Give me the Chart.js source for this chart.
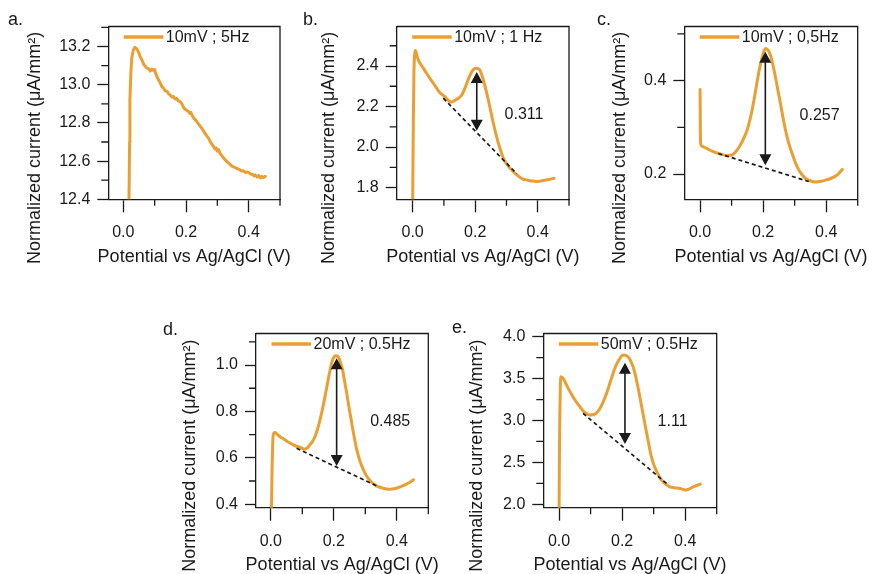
<!DOCTYPE html>
<html>
<head>
<meta charset="utf-8">
<script src="https://cdn.jsdelivr.net/npm/chart.js@4.4.1/dist/chart.umd.min.js"></script>
<style>
  html, body { margin: 0; padding: 0; background: #fff; }
  #wrap { position: relative; width: 872px; height: 574px; overflow: hidden; }
  #wrap canvas { position: absolute; left: 0; top: 0; }
</style>
</head>
<body>
<div id="wrap">
  <canvas id="ca" width="872" height="574"></canvas>
  <canvas id="cb" width="872" height="574"></canvas>
  <canvas id="cc" width="872" height="574"></canvas>
  <canvas id="cd" width="872" height="574"></canvas>
  <canvas id="ce" width="872" height="574"></canvas>
</div>
<script>
const ORANGE = "#EA9F33";
const INK = "#1a1a1a";
const FONT = "'Liberation Sans', Arial, sans-serif";
const Y_TITLE = "Normalized current (μA/mm²)";
const X_TITLE = "Potential vs Ag/AgCl (V)";

// shared x axis (V)
const xTicks = [0, 0.1, 0.2, 0.3, 0.4, 0.5];
const xTickLabels = [0, 0.2, 0.4];

// a. 10mV ; 5Hz
const potA = [0.018, 0.020, 0.021, 0.024, 0.027, 0.032, 0.037, 0.040, 0.044, 0.048, 0.053, 0.059, 0.064, 0.069, 0.074,
  0.080, 0.086, 0.090, 0.094, 0.098, 0.101, 0.106, 0.112, 0.117, 0.123, 0.128, 0.134, 0.139, 0.145, 0.150, 0.155,
  0.160, 0.165, 0.171, 0.176, 0.181, 0.187, 0.192, 0.197, 0.203, 0.208, 0.212, 0.215, 0.220, 0.225, 0.229, 0.235,
  0.240, 0.245, 0.250, 0.255, 0.258, 0.264, 0.268, 0.272, 0.278, 0.283, 0.288, 0.292, 0.296, 0.300, 0.304, 0.309,
  0.315, 0.322, 0.330, 0.336, 0.341, 0.348, 0.355, 0.362, 0.370, 0.377, 0.383, 0.390, 0.397, 0.405, 0.412, 0.418,
  0.421, 0.427, 0.432, 0.437, 0.442, 0.447, 0.453];
const curA = [12.38, 12.70, 12.92, 13.06, 13.14, 13.183, 13.196, 13.192, 13.185, 13.172, 13.150, 13.131, 13.110, 13.099, 13.088,
  13.084, 13.072, 13.082, 13.076, 13.079, 13.068, 13.048, 13.026, 13.012, 12.990, 12.982, 12.968, 12.965, 12.952, 12.945, 12.936,
  12.938, 12.925, 12.928, 12.914, 12.912, 12.900, 12.882, 12.872, 12.864, 12.860, 12.850, 12.856, 12.838, 12.825, 12.818, 12.806,
  12.795, 12.783, 12.774, 12.760, 12.752, 12.738, 12.728, 12.720, 12.700, 12.688, 12.676, 12.664, 12.670, 12.652, 12.660, 12.640,
  12.626, 12.612, 12.598, 12.590, 12.582, 12.572, 12.568, 12.561, 12.557, 12.548, 12.550, 12.540, 12.543, 12.534, 12.530, 12.522,
  12.528, 12.516, 12.524, 12.512, 12.520, 12.514, 12.520];
const yTicksA = [12.4, 12.5, 12.6, 12.7, 12.8, 12.9, 13.0, 13.1, 13.2, 13.3];
const yLabelsA = [12.4, 12.6, 12.8, 13.0, 13.2];

// b. 10mV ; 1 Hz
const potB = [0.000, 0.002, 0.004, 0.007, 0.009, 0.013, 0.018, 0.026, 0.034, 0.042, 0.050, 0.058, 0.066, 0.076, 0.087,
  0.095, 0.103, 0.111, 0.119, 0.125, 0.132, 0.141, 0.149, 0.157, 0.165, 0.173, 0.181, 0.189, 0.196, 0.203, 0.209,
  0.215, 0.220, 0.226, 0.234, 0.242, 0.250, 0.258, 0.266, 0.274, 0.282, 0.290, 0.300, 0.311, 0.322, 0.333, 0.344,
  0.354, 0.365, 0.375, 0.386, 0.397, 0.408, 0.418, 0.429, 0.439, 0.452];
const curB = [1.70, 2.10, 2.36, 2.465, 2.476, 2.455, 2.430, 2.408, 2.389, 2.370, 2.351, 2.333, 2.315, 2.292, 2.268,
  2.258, 2.249, 2.234, 2.224, 2.222, 2.228, 2.236, 2.244, 2.257, 2.282, 2.315, 2.346, 2.372, 2.385, 2.389, 2.387,
  2.380, 2.360, 2.331, 2.285, 2.232, 2.175, 2.118, 2.066, 2.019, 1.980, 1.945, 1.918, 1.896, 1.878, 1.863, 1.850,
  1.841, 1.837, 1.834, 1.832, 1.830, 1.832, 1.835, 1.838, 1.841, 1.846];
const yTicksB = [1.8, 1.9, 2.0, 2.1, 2.2, 2.3, 2.4, 2.5];
const yLabelsB = [1.8, 2.0, 2.2, 2.4];
const baseB = [[0.098, 2.241], [0.333, 1.868]];
const arrowB = [0.205, 2.08, 2.37];
const peakB = "0.311";

// c. 10mV ; 0,5Hz
const potC = [0.000, 0.0005, 0.001, 0.002, 0.008, 0.021, 0.042, 0.064, 0.085, 0.101, 0.109, 0.117, 0.125, 0.133, 0.141,
  0.149, 0.157, 0.165, 0.173, 0.180, 0.188, 0.196, 0.203, 0.209, 0.216, 0.223, 0.231, 0.239, 0.247, 0.255, 0.263,
  0.271, 0.281, 0.292, 0.302, 0.313, 0.323, 0.334, 0.345, 0.356, 0.366, 0.377, 0.388, 0.398, 0.412, 0.425, 0.438, 0.451];
const curC = [0.381, 0.337, 0.287, 0.264, 0.259, 0.255, 0.248, 0.243, 0.240, 0.241, 0.245, 0.251, 0.259, 0.269, 0.280,
  0.294, 0.313, 0.337, 0.366, 0.394, 0.424, 0.448, 0.464, 0.469, 0.465, 0.455, 0.434, 0.408, 0.379, 0.351, 0.321,
  0.294, 0.267, 0.244, 0.225, 0.209, 0.199, 0.191, 0.187, 0.184, 0.183, 0.184, 0.185, 0.187, 0.190, 0.194, 0.200, 0.210];
const yTicksC = [0.2, 0.3, 0.4, 0.5];
const yLabelsC = [0.2, 0.4];
const baseC = [[0.058, 0.244], [0.345, 0.184]];
const arrowC = [0.207, 0.219, 0.462];
const peakC = "0.257";

// d. 20mV ; 0.5Hz
const potD = [0.002, 0.004, 0.006, 0.008, 0.013, 0.020, 0.029, 0.040, 0.050, 0.061, 0.071, 0.082, 0.092, 0.100, 0.108,
  0.116, 0.124, 0.132, 0.140, 0.148, 0.156, 0.164, 0.172, 0.180, 0.188, 0.195, 0.201, 0.208, 0.214, 0.221, 0.228,
  0.234, 0.241, 0.249, 0.257, 0.265, 0.273, 0.283, 0.294, 0.304, 0.315, 0.325, 0.336, 0.346, 0.357, 0.368, 0.379,
  0.392, 0.405, 0.418, 0.432, 0.443, 0.453];
const curD = [0.37, 0.55, 0.66, 0.700, 0.709, 0.702, 0.691, 0.682, 0.673, 0.664, 0.656, 0.650, 0.646, 0.641, 0.637,
  0.643, 0.656, 0.670, 0.691, 0.722, 0.763, 0.810, 0.864, 0.922, 0.977, 1.018, 1.036, 1.040, 1.036, 1.012, 0.979,
  0.932, 0.878, 0.812, 0.749, 0.688, 0.634, 0.586, 0.548, 0.522, 0.502, 0.489, 0.479, 0.473, 0.469, 0.466, 0.465,
  0.467, 0.472, 0.479, 0.488, 0.496, 0.505];
const yTicksD = [0.4, 0.5, 0.6, 0.7, 0.8, 0.9, 1.0, 1.1];
const yLabelsD = [0.4, 0.6, 0.8, 1.0];
const baseD = [[0.082, 0.641], [0.336, 0.479]];
const arrowD = [0.209, 0.565, 1.029];
const peakD = "0.485";

// e. 50mV ; 0.5Hz
const potE = [0.000, 0.001, 0.002, 0.004, 0.006, 0.009, 0.013, 0.021, 0.029, 0.037, 0.045, 0.055, 0.066, 0.074, 0.082,
  0.090, 0.098, 0.106, 0.114, 0.122, 0.130, 0.138, 0.146, 0.154, 0.161, 0.169, 0.177, 0.185, 0.193, 0.200, 0.206,
  0.214, 0.223, 0.230, 0.238, 0.245, 0.252, 0.260, 0.268, 0.276, 0.284, 0.291, 0.299, 0.310, 0.321, 0.332, 0.342,
  0.350, 0.358, 0.368, 0.379, 0.390, 0.400, 0.411, 0.422, 0.435, 0.448];
const curE = [1.90, 2.50, 2.95, 3.40, 3.523, 3.515, 3.503, 3.445, 3.384, 3.330, 3.277, 3.220, 3.165, 3.125, 3.093,
  3.076, 3.066, 3.068, 3.078, 3.105, 3.146, 3.205, 3.277, 3.360, 3.444, 3.535, 3.623, 3.690, 3.742, 3.775, 3.782,
  3.772, 3.742, 3.685, 3.603, 3.490, 3.364, 3.205, 3.045, 2.885, 2.728, 2.600, 2.489, 2.390, 2.310, 2.262, 2.230,
  2.212, 2.203, 2.196, 2.191, 2.182, 2.171, 2.180, 2.203, 2.222, 2.242];
const yTicksE = [2.0, 2.25, 2.5, 2.75, 3.0, 3.25, 3.5, 3.75, 4.0];
const yLabelsE = [2.0, 2.5, 3.0, 3.5, 4.0];
const baseE = [[0.076, 3.086], [0.347, 2.23]];
const arrowE = [0.209, 2.72, 3.69];
const peakE = "1.11";

const has = (list, v) => list.some((l) => Math.abs(l - v) < 1e-6);

// frame, minor ticks, titles, legend and the peak-height annotations
const decor = {
  id: "decor",
  afterDraw(chart, args, o) {
    const { ctx, chartArea: a } = chart;
    const x = chart.scales.x, y = chart.scales.y;
    ctx.save();
    ctx.strokeStyle = INK;
    ctx.fillStyle = INK;
    ctx.lineWidth = 1.3;

    // top + right edge of the box
    ctx.beginPath();
    ctx.moveTo(a.left, a.top);
    ctx.lineTo(a.right, a.top);
    ctx.lineTo(a.right, a.bottom);
    ctx.stroke();

    // minor ticks
    ctx.beginPath();
    xTicks.forEach((v) => {
      if (has(xTickLabels, v)) return;
      const px = x.getPixelForValue(v);
      ctx.moveTo(px, a.bottom);
      ctx.lineTo(px, a.bottom + 6.5);
    });
    o.yTicks.forEach((v) => {
      if (has(o.yLabels, v)) return;
      const py = y.getPixelForValue(v);
      ctx.moveTo(a.left - 7, py);
      ctx.lineTo(a.left, py);
    });
    ctx.stroke();

    // baseline + double arrow
    if (o.base) {
      ctx.save();
      ctx.setLineDash([4, 3]);
      ctx.lineWidth = 1.7;
      ctx.beginPath();
      ctx.moveTo(x.getPixelForValue(o.base[0][0]), y.getPixelForValue(o.base[0][1]));
      ctx.lineTo(x.getPixelForValue(o.base[1][0]), y.getPixelForValue(o.base[1][1]));
      ctx.stroke();
      ctx.restore();

      const ax = x.getPixelForValue(o.arrow[0]);
      const yLo = y.getPixelForValue(o.arrow[1]);
      const yHi = y.getPixelForValue(o.arrow[2]);
      ctx.lineWidth = 1.6;
      ctx.beginPath();
      ctx.moveTo(ax, yHi + 8);
      ctx.lineTo(ax, yLo - 8);
      ctx.stroke();
      ctx.beginPath();
      ctx.moveTo(ax, yHi);
      ctx.lineTo(ax - 6, yHi + 11);
      ctx.lineTo(ax + 6, yHi + 11);
      ctx.closePath();
      ctx.moveTo(ax, yLo);
      ctx.lineTo(ax - 6, yLo - 11);
      ctx.lineTo(ax + 6, yLo - 11);
      ctx.closePath();
      ctx.fill();

      ctx.font = "16px " + FONT;
      ctx.textAlign = "center";
      ctx.textBaseline = "middle";
      ctx.fillText(o.note[0], x.getPixelForValue(o.note[1]), y.getPixelForValue(o.note[2]));
    }

    // legend
    const ly = a.top + 10.5;
    ctx.strokeStyle = ORANGE;
    ctx.lineWidth = 3.5;
    ctx.beginPath();
    ctx.moveTo(a.left + 15.5, ly);
    ctx.lineTo(a.left + 55, ly);
    ctx.stroke();
    ctx.font = "16px " + FONT;
    ctx.textAlign = "left";
    ctx.textBaseline = "middle";
    ctx.fillText(chart.data.datasets[0].label, a.left + 57.5, ly + 1);

    // axis titles
    ctx.font = "18px " + FONT;
    ctx.textAlign = "center";
    ctx.textBaseline = "middle";
    ctx.fillText(X_TITLE, (a.left + a.right) / 2, a.bottom + 57.5);
    ctx.save();
    ctx.translate(o.yTitleX, (a.top + a.bottom) / 2 + 35);
    ctx.rotate(-Math.PI / 2);
    ctx.fillText(Y_TITLE, 0, 0);
    ctx.restore();

    // panel letter
    ctx.textAlign = "left";
    ctx.textBaseline = "alphabetic";
    ctx.fillText(o.letter, o.letterAt[0], o.letterAt[1]);
    ctx.restore();
  }
};

function makePanel(id, p) {
  const [l, t, r, b] = p.box;
  const YW = 60, XH = 60;
  new Chart(document.getElementById(id), {
    type: "line",
    data: {
      datasets: [{
        label: p.label,
        data: p.pot.map((v, i) => ({ x: v, y: p.cur[i] })),
        borderColor: ORANGE,
        borderWidth: 3,
        pointRadius: 0,
        fill: false,
        borderJoinStyle: "round",
        borderCapStyle: "round",
        cubicInterpolationMode: p.smooth ? "monotone" : "default",
        tension: 0
      }]
    },
    options: {
      responsive: false,
      animation: false,
      events: [],
      layout: { padding: { left: l - YW, top: t, right: 872 - r, bottom: 574 - b - XH } },
      plugins: {
        legend: { display: false },
        tooltip: { enabled: false },
        decor: {
          yTicks: p.yTicks, yLabels: p.yLabels, letter: p.letter, letterAt: p.letterAt,
          yTitleX: p.yTitleX, base: p.base, arrow: p.arrow, note: p.note
        }
      },
      scales: {
        x: {
          type: "linear",
          min: p.xMin,
          max: 0.5,
          afterBuildTicks: (s) => { s.ticks = xTicks.map((v) => ({ value: v })); },
          afterFit: (s) => { s.height = XH; },
          grid: {
            drawOnChartArea: false, drawTicks: true, tickLength: 13, tickWidth: 1.3,
            tickColor: (c) => (c.tick && has(xTickLabels, c.tick.value) ? INK : "rgba(0,0,0,0)")
          },
          border: { display: true, color: INK, width: 1.3 },
          ticks: {
            autoSkip: false, maxRotation: 0, padding: 11, color: INK,
            font: { size: 16, family: FONT },
            callback: (v) => (has(xTickLabels, v) ? v.toFixed(1) : "")
          }
        },
        y: {
          type: "linear",
          min: p.yMin,
          max: p.yMax,
          afterBuildTicks: (s) => { s.ticks = p.yTicks.map((v) => ({ value: v })); },
          afterFit: (s) => { s.width = YW; },
          grid: {
            drawOnChartArea: false, drawTicks: true, tickLength: 11, tickWidth: 1.3,
            tickColor: (c) => (c.tick && has(p.yLabels, c.tick.value) ? INK : "rgba(0,0,0,0)")
          },
          border: { display: true, color: INK, width: 1.3 },
          ticks: {
            autoSkip: false, padding: 7, color: INK,
            font: { size: 16, family: FONT },
            callback: (v) => (has(p.yLabels, v) ? v.toFixed(1) : "")
          }
        }
      }
    },
    plugins: [decor]
  });
}

makePanel("ca", {
  label: "10mV ; 5Hz", pot: potA, cur: curA, smooth: false,
  box: [108.3, 26.5, 280, 199.3], xMin: -0.048, yMin: 12.4, yMax: 13.305,
  yTicks: yTicksA, yLabels: yLabelsA, letter: "a.", letterAt: [8, 25], yTitleX: 35
});
makePanel("cb", {
  label: "10mV ; 1 Hz", pot: potB, cur: curB, smooth: true,
  box: [396.7, 26.5, 569, 199.3], xMin: -0.051, yMin: 1.742, yMax: 2.595,
  yTicks: yTicksB, yLabels: yLabelsB, letter: "b.", letterAt: [303, 25], yTitleX: 329,
  base: baseB, arrow: arrowB, note: [peakB, 0.356, 2.158]
});
makePanel("cc", {
  label: "10mV ; 0,5Hz", pot: potC, cur: curC, smooth: true,
  box: [684.3, 26.5, 857.7, 199.3], xMin: -0.05, yMin: 0.146, yMax: 0.516,
  yTicks: yTicksC, yLabels: yLabelsC, letter: "c.", letterAt: [597, 25], yTitleX: 620,
  base: baseC, arrow: arrowC, note: [peakC, 0.379, 0.326]
});
makePanel("cd", {
  label: "20mV ; 0.5Hz", pot: potD, cur: curD, smooth: true,
  box: [256, 333.5, 428.3, 507.7], xMin: -0.047, yMin: 0.385, yMax: 1.136,
  yTicks: yTicksD, yLabels: yLabelsD, letter: "d.", letterAt: [163, 335], yTitleX: 190,
  base: baseD, arrow: arrowD, note: [peakD, 0.379, 0.756]
});
makePanel("ce", {
  label: "50mV ; 0.5Hz", pot: potE, cur: curE, smooth: true,
  box: [543.3, 333.5, 716.7, 507.7], xMin: -0.05, yMin: 1.96, yMax: 4.038,
  yTicks: yTicksE, yLabels: yLabelsE, letter: "e.", letterAt: [452, 333], yTitleX: 477.5,
  base: baseE, arrow: arrowE, note: [peakE, 0.36, 2.986]
});
</script>
</body>
</html>
